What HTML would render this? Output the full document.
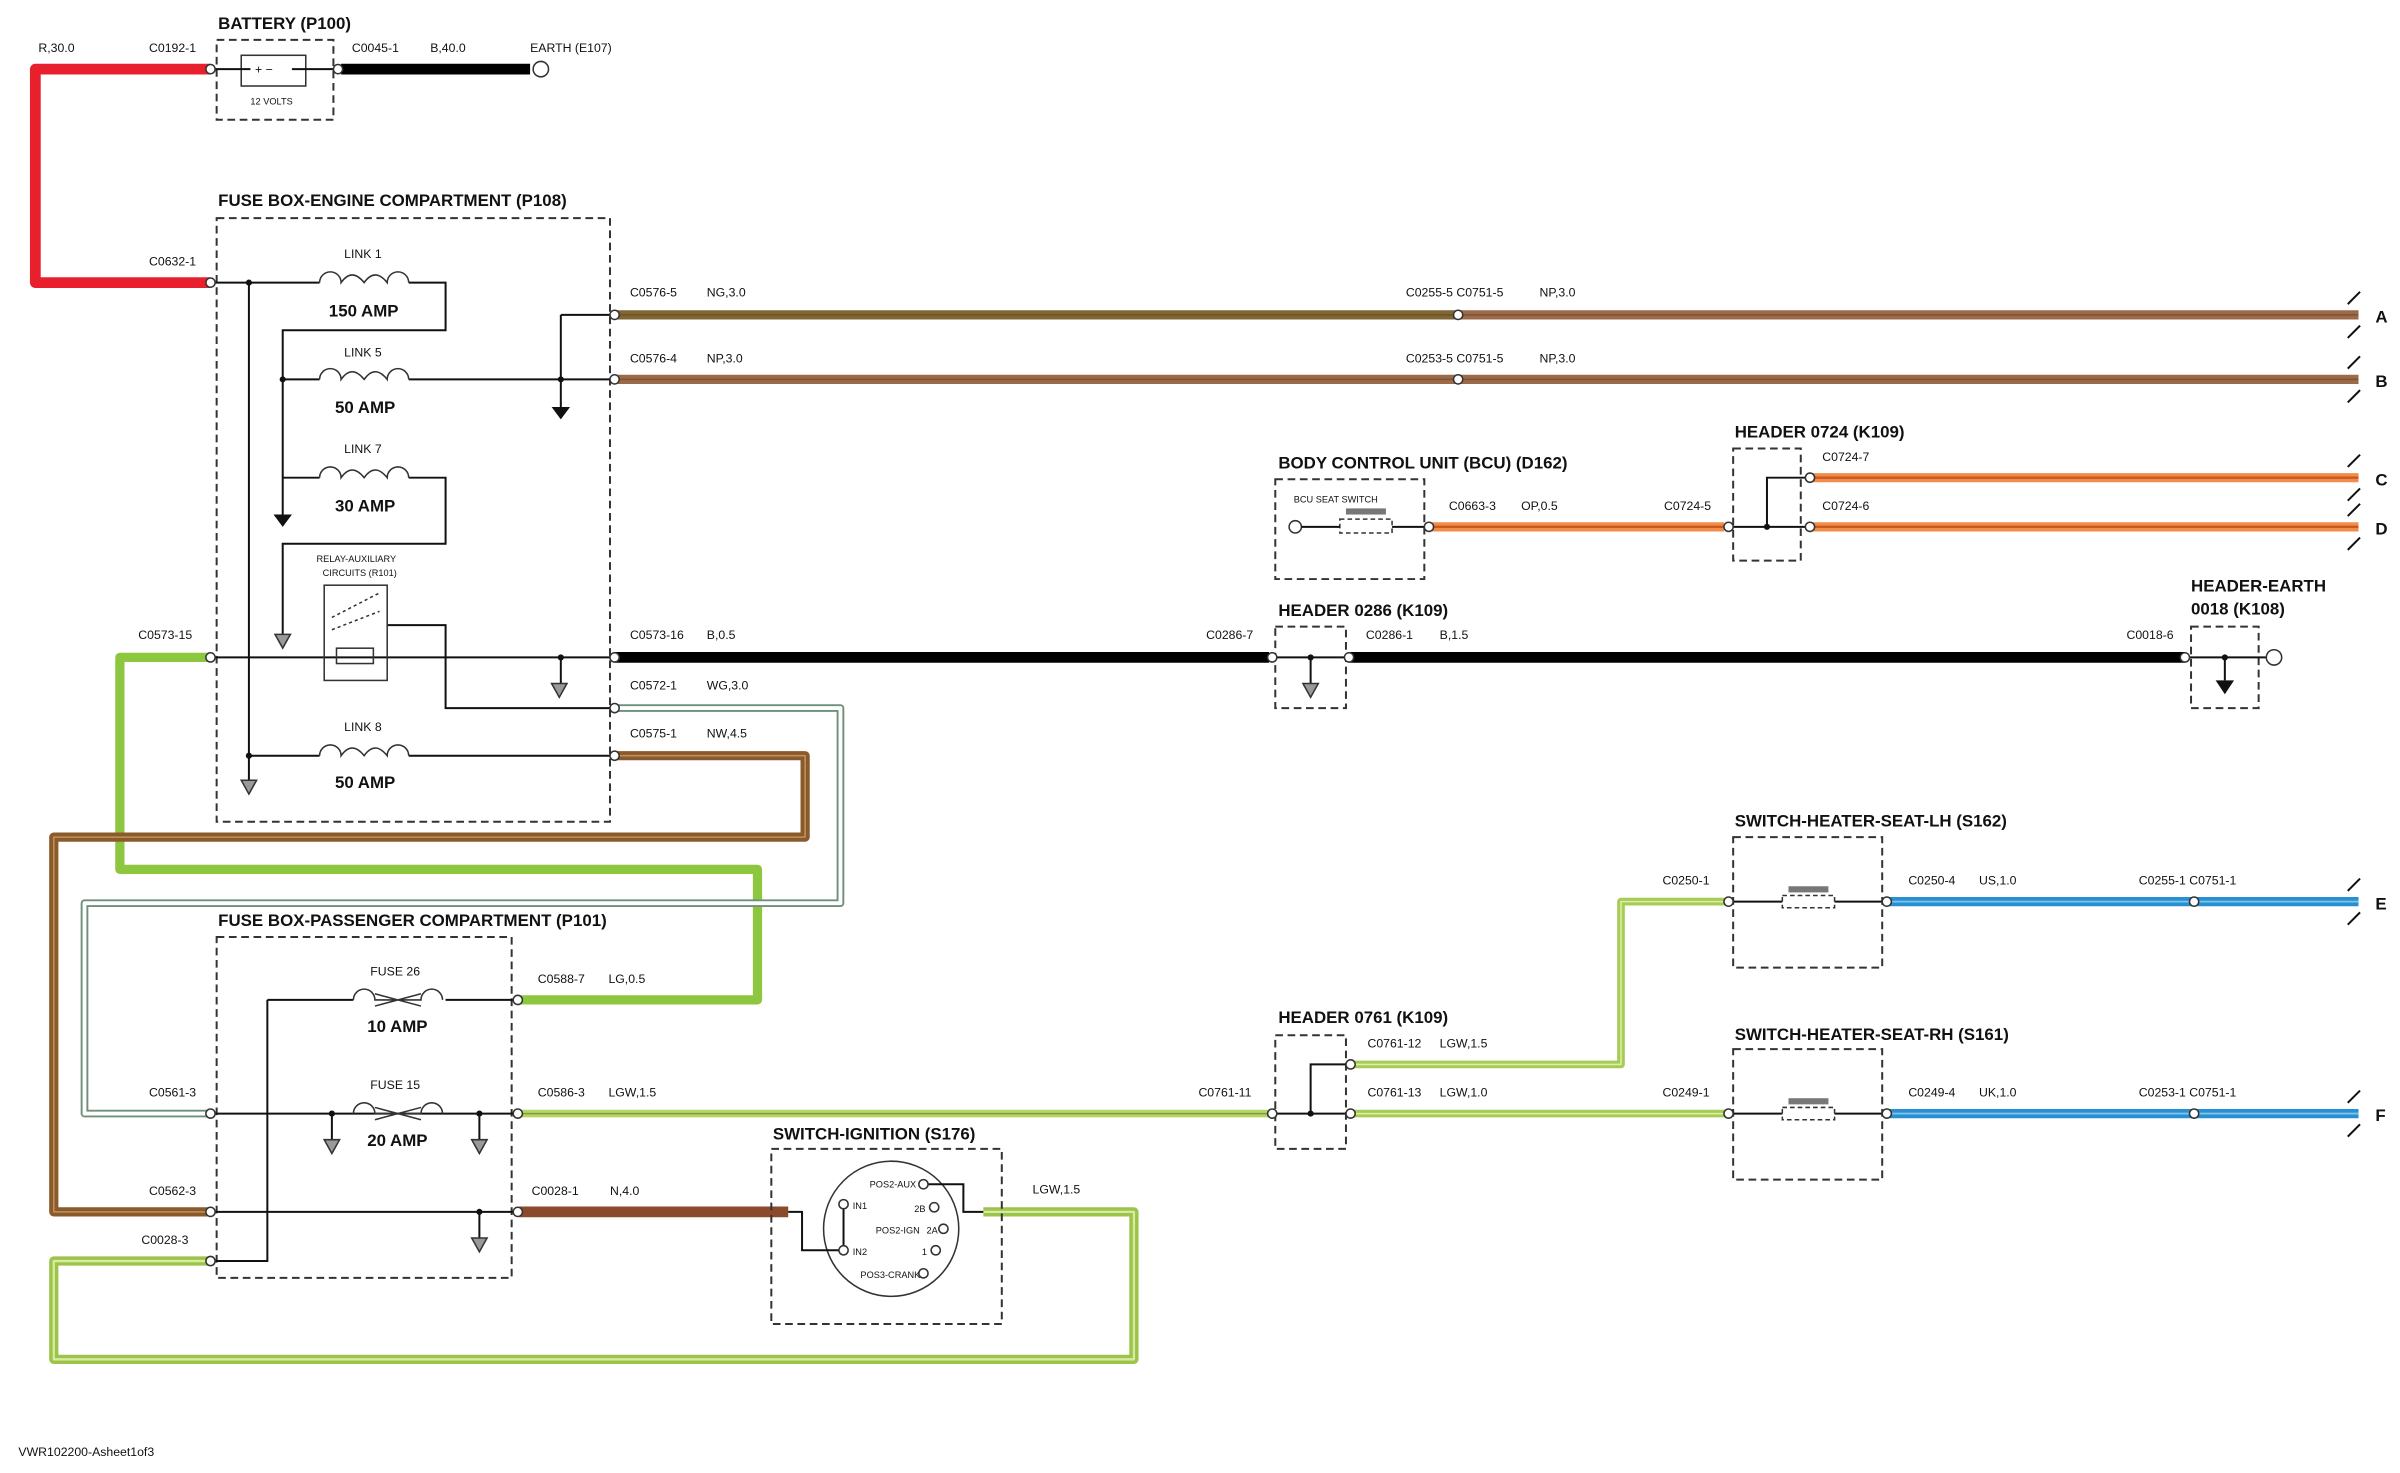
<!DOCTYPE html>
<html><head><meta charset="utf-8"><style>
html,body{margin:0;padding:0;background:#fff;}
svg{display:block;}
text{font-family:"Liberation Sans Narrow","Liberation Sans",sans-serif;fill:#111;}
.t{font-size:11px;font-weight:bold;}
.s{font-size:8px;}
.xs{font-size:6px;}
.box{fill:none;stroke:#333;stroke-width:1.3;stroke-dasharray:5,3;}
.ln{fill:none;stroke:#111;stroke-width:1.3;}
.w{fill:none;stroke-linejoin:round;}
.c{fill:#fff;stroke:#333;stroke-width:1;}
</style></head><body>
<svg width="2400" height="1473" viewBox="0 0 1562 959" preserveAspectRatio="none" xmlns="http://www.w3.org/2000/svg">
<!-- red wire -->
<path class="w" d="M137,45 H23 V184 H137" stroke="#e8202e" stroke-width="7"/>
<!-- battery -->
<text class="t" x="142" y="19">BATTERY (P100)</text>
<rect class="box" x="141" y="26" width="76" height="52"/>
<rect x="157" y="36" width="42" height="20" fill="none" stroke="#333"/>
<path class="ln" d="M140,45 H163 M190,45 H220"/>
<text class="s" x="166" y="48">+  −</text>
<text class="xs" x="163" y="68">12 VOLTS</text>
<path class="w" d="M222,45 H345" stroke="#000" stroke-width="7"/>
<circle class="c" cx="352" cy="45" r="5"/>
<text class="s" x="25" y="34">R,30.0</text><text class="s" x="97" y="34">C0192-1</text>
<text class="s" x="229" y="34">C0045-1</text><text class="s" x="280" y="34">B,40.0</text><text class="s" x="345" y="34">EARTH (E107)</text>
<text class="s" x="97" y="173">C0632-1</text>

<!-- engine fuse box -->
<text class="t" x="142" y="134">FUSE BOX-ENGINE COMPARTMENT (P108)</text>
<rect class="box" x="141" y="142" width="256" height="393"/>
<path class="ln" d="M140,184 H208 M266,184 H290 V215 H184 V335 M184,247 H208 M266,247 H400 M365,205 H400 M365,205 V265 M184,311 H208 M266,311 H290 V354 H184 V415 M162,184 V508 M162,492 H208 M266,492 H400 M140,428 H400 M365,428 V445 M252,407 H290 V461 H400"/>
<g fill="none" stroke="#333">
<path d="M208,184 a7,7 0 1 1 14,0 q7,-10 15,0 q7,-10 15,0 a7,7 0 1 1 14,0"/>
<path d="M208,247 a7,7 0 1 1 14,0 q7,-10 15,0 q7,-10 15,0 a7,7 0 1 1 14,0"/>
<path d="M208,311 a7,7 0 1 1 14,0 q7,-10 15,0 q7,-10 15,0 a7,7 0 1 1 14,0"/>
<path d="M208,492 a7,7 0 1 1 14,0 q7,-10 15,0 q7,-10 15,0 a7,7 0 1 1 14,0"/>
<rect x="211" y="381" width="41" height="62"/>
<rect x="219" y="422" width="24" height="10"/>
<path d="M216,402 L247,386 M216,410 L247,398" stroke-dasharray="2,2"/>
</g>
<text class="s" x="224" y="168">LINK 1</text><text class="t" x="214" y="206">150 AMP</text>
<text class="s" x="224" y="232">LINK 5</text><text class="t" x="218" y="269">50 AMP</text>
<text class="s" x="224" y="295">LINK 7</text><text class="t" x="218" y="333">30 AMP</text>
<text class="s" x="224" y="476">LINK 8</text><text class="t" x="218" y="513">50 AMP</text>
<text class="xs" x="206" y="366">RELAY-AUXILIARY</text><text class="xs" x="210" y="375">CIRCUITS (R101)</text>
<g fill="#111"><circle cx="162" cy="184" r="2"/><circle cx="184" cy="247" r="2"/><circle cx="365" cy="247" r="2"/><circle cx="365" cy="428" r="2"/><circle cx="162" cy="492" r="2"/>
<path d="M359,265 h12 l-6,8z M178,335 h12 l-6,8z"/></g>
<g fill="#999" stroke="#333"><path d="M179,413 h10 l-5,9z M359,445 h10 l-5,9z M157,508 h10 l-5,9z"/></g>

<!-- wires A/B -->
<path class="w" d="M400,205 H949" stroke="#7f6632" stroke-width="6"/>
<path class="w" d="M949,205 H1535" stroke="#9c6a48" stroke-width="6"/>
<path class="w" d="M400,247 H1535" stroke="#9c6a48" stroke-width="6"/>
<path d="M400,205 H1535 M400,247 H1535" stroke="#5a4020" stroke-width="1" opacity=".5"/>
<text class="s" x="410" y="193">C0576-5</text><text class="s" x="460" y="193">NG,3.0</text>
<text class="s" x="915" y="193">C0255-5 C0751-5</text><text class="s" x="1002" y="193">NP,3.0</text>
<text class="s" x="410" y="236">C0576-4</text><text class="s" x="460" y="236">NP,3.0</text>
<text class="s" x="915" y="236">C0253-5 C0751-5</text><text class="s" x="1002" y="236">NP,3.0</text>
<text class="t" x="1546" y="210">A</text><text class="t" x="1546" y="252">B</text>
<text class="t" x="1546" y="316">C</text><text class="t" x="1546" y="348">D</text>
<text class="t" x="1546" y="592">E</text><text class="t" x="1546" y="730">F</text>
<path class="ln" stroke-width=".8" d="M1528,198 l8,-8 M1528,220 l8,-8 M1528,240 l8,-8 M1528,262 l8,-8 M1528,304 l8,-8 M1528,326 l8,-8 M1528,336 l8,-8 M1528,358 l8,-8 M1528,580 l8,-8 M1528,602 l8,-8 M1528,718 l8,-8 M1528,740 l8,-8"/>

<!-- BCU + header 0724 -->
<text class="t" x="832" y="305">BODY CONTROL UNIT (BCU) (D162)</text>
<rect class="box" x="830" y="312" width="97" height="65"/>
<text class="xs" x="842" y="327">BCU SEAT SWITCH</text>
<circle class="c" cx="843" cy="343" r="4"/>
<rect x="872" y="338" width="34" height="9" fill="none" stroke="#333" stroke-dasharray="3,2"/>
<rect x="876" y="331" width="26" height="4" fill="#777"/>
<path class="ln" d="M847,343 H872 M906,343 H930"/>
<path class="w" d="M930,343 H1122 M1178,343 H1535 M1178,311 H1535" stroke="#f28c4a" stroke-width="6"/>
<path d="M930,343 H1122 M1178,343 H1535 M1178,311 H1535" stroke="#c85a20" stroke-width="1.5"/>
<text class="s" x="943" y="332">C0663-3</text><text class="s" x="990" y="332">OP,0.5</text><text class="s" x="1083" y="332">C0724-5</text>
<text class="t" x="1129" y="285">HEADER 0724 (K109)</text>
<rect class="box" x="1128" y="292" width="44" height="73"/>
<path class="ln" d="M1125,343 H1178 M1150,343 V311 H1178"/><circle cx="1150" cy="343" r="2" fill="#111"/>
<text class="s" x="1186" y="300">C0724-7</text><text class="s" x="1186" y="332">C0724-6</text>

<!-- black wire -->
<path class="w" d="M400,428 H826 M878,428 H1422" stroke="#000" stroke-width="7"/>
<text class="s" x="410" y="416">C0573-16</text><text class="s" x="460" y="416">B,0.5</text><text class="s" x="785" y="416">C0286-7</text>
<text class="s" x="889" y="416">C0286-1</text><text class="s" x="937" y="416">B,1.5</text><text class="s" x="1384" y="416">C0018-6</text>
<text class="t" x="832" y="401">HEADER 0286 (K109)</text>
<rect class="box" x="830" y="408" width="46" height="53"/>
<path class="ln" d="M826,428 H878 M853,428 V445"/><circle cx="853" cy="428" r="2" fill="#111"/>
<path d="M848,445 h10 l-5,9z" fill="#999" stroke="#333"/>
<text class="t" x="1426" y="385">HEADER-EARTH</text><text class="t" x="1426" y="400">0018 (K108)</text>
<rect class="box" x="1426" y="408" width="44" height="53"/>
<path class="ln" d="M1422,428 H1475 M1448,428 V443"/><circle cx="1448" cy="428" r="2" fill="#111"/>
<path d="M1442,443 h12 l-6,9z" fill="#111"/>
<circle class="c" cx="1480" cy="428" r="5"/>

<!-- green C0573-15 loop -->
<path class="w" d="M137,428 H78 V566 H493 V651 H338" stroke="#8dc63f" stroke-width="6"/>
<text class="s" x="90" y="416">C0573-15</text>
<!-- WG double line -->
<path class="w" d="M400,461 H547 V588 H55 V725 H137" stroke="#6e8f7a" stroke-width="5"/>
<path class="w" d="M400,461 H547 V588 H55 V725 H137" stroke="#fff" stroke-width="2.5"/>
<text class="s" x="410" y="449">C0572-1</text><text class="s" x="460" y="449">WG,3.0</text>
<!-- brown NW -->
<path class="w" d="M400,492 H524 V545 H35 V789 H137" stroke="#8b5a2b" stroke-width="6"/>
<path class="w" d="M400,492 H524 V545 H35 V789 H137" stroke="#c09060" stroke-width="1"/>
<text class="s" x="410" y="480">C0575-1</text><text class="s" x="460" y="480">NW,4.5</text>

<!-- passenger box -->
<text class="t" x="142" y="603">FUSE BOX-PASSENGER COMPARTMENT (P101)</text>
<rect class="box" x="141" y="610" width="192" height="222"/>
<path class="ln" d="M174,651 H230 M290,651 H338 M174,651 V821 H140 M140,725 H338 M216,725 V742 M312,725 V742 M140,789 H338 M312,789 V806"/>
<g fill="none" stroke="#333">
<path d="M230,651 a7,7 0 1 1 14,0 l30,0 a7,7 0 1 1 14,0 M244,647 L274,655 M244,655 L274,647"/>
<path d="M230,725 a7,7 0 1 1 14,0 l30,0 a7,7 0 1 1 14,0 M244,721 L274,729 M244,729 L274,721"/>
</g>
<g fill="#111"><circle cx="216" cy="725" r="2"/><circle cx="312" cy="725" r="2"/><circle cx="312" cy="789" r="2"/></g>
<path d="M211,742 h10 l-5,9z M307,742 h10 l-5,9z M307,806 h10 l-5,9z" fill="#999" stroke="#333"/>
<text class="s" x="241" y="635">FUSE 26</text><text class="t" x="239" y="672">10 AMP</text>
<text class="s" x="241" y="709">FUSE 15</text><text class="t" x="239" y="746">20 AMP</text>
<text class="s" x="350" y="640">C0588-7</text><text class="s" x="396" y="640">LG,0.5</text>
<text class="s" x="350" y="714">C0586-3</text><text class="s" x="396" y="714">LGW,1.5</text>
<text class="s" x="97" y="714">C0561-3</text><text class="s" x="97" y="778">C0562-3</text><text class="s" x="92" y="810">C0028-3</text>
<text class="s" x="346" y="778">C0028-1</text><text class="s" x="397" y="778">N,4.0</text>

<!-- LGW wires -->
<path class="w" d="M338,725 H828" stroke="#b5d56a" stroke-width="5"/>
<path d="M338,725 H828" stroke="#7e9d3a" stroke-width="1"/>
<path class="w" d="M513,789 H338" stroke="#8b4a2b" stroke-width="7"/>
<path class="w" d="M640,789 H738 V885 H35 V821 H137" stroke="#9cc44a" stroke-width="6"/>
<path class="w" d="M640,789 H738 V885 H35 V821 H137" stroke="#d7ea9f" stroke-width="1.5"/>
<text class="s" x="672" y="777">LGW,1.5</text>
<!-- ignition -->
<text class="t" x="503" y="742">SWITCH-IGNITION (S176)</text>
<rect class="box" x="502" y="748" width="150" height="114"/>
<circle cx="580" cy="800" r="44" fill="none" stroke="#333"/>
<path class="ln" d="M513,789 H522 V814 H549 M549,784 V814 M601,771 H627 V789 H640"/>
<g class="c"><circle cx="549" cy="784" r="3"/><circle cx="549" cy="814" r="3"/><circle cx="601" cy="771" r="3"/><circle cx="608" cy="786" r="3"/><circle cx="614" cy="800" r="3"/><circle cx="609" cy="814" r="3"/><circle cx="601" cy="829" r="3"/></g>
<g class="xs"><text x="566" y="773">POS2-AUX</text><text x="555" y="787">IN1</text><text x="595" y="789">2B</text><text x="570" y="803">POS2-IGN</text><text x="603" y="803">2A</text><text x="555" y="817">IN2</text><text x="600" y="817">1</text><text x="560" y="832">POS3-CRANK</text></g>

<!-- header 0761 -->
<text class="t" x="832" y="666">HEADER 0761 (K109)</text>
<rect class="box" x="830" y="674" width="46" height="74"/>
<path class="ln" d="M828,725 H880 M853,725 V693 H880"/><circle cx="853" cy="725" r="2" fill="#111"/>
<path class="w" d="M880,693 H1055 V587 H1125 M880,725 H1125" stroke="#a6cc55" stroke-width="5"/>
<path d="M880,693 H1055 V587 H1125 M880,725 H1125" stroke="#dcedac" stroke-width="1" fill="none"/>
<text class="s" x="780" y="714">C0761-11</text>
<text class="s" x="890" y="682">C0761-12</text><text class="s" x="937" y="682">LGW,1.5</text>
<text class="s" x="890" y="714">C0761-13</text><text class="s" x="937" y="714">LGW,1.0</text>
<text class="s" x="1082" y="576">C0250-1</text><text class="s" x="1082" y="714">C0249-1</text>

<!-- seat switches -->
<text class="t" x="1129" y="538">SWITCH-HEATER-SEAT-LH (S162)</text>
<rect class="box" x="1128" y="545" width="97" height="85"/>
<text class="t" x="1129" y="677">SWITCH-HEATER-SEAT-RH (S161)</text>
<rect class="box" x="1128" y="683" width="97" height="85"/>
<path class="ln" d="M1125,587 H1160 M1194,587 H1228 M1125,725 H1160 M1194,725 H1228"/>
<rect x="1160" y="583" width="34" height="8" fill="none" stroke="#333" stroke-dasharray="3,2"/>
<rect x="1164" y="577" width="26" height="4" fill="#777"/>
<rect x="1160" y="721" width="34" height="8" fill="none" stroke="#333" stroke-dasharray="3,2"/>
<rect x="1164" y="715" width="26" height="4" fill="#777"/>
<path class="w" d="M1228,587 H1535 M1228,725 H1535" stroke="#2a8fd0" stroke-width="6"/>
<path d="M1228,587 H1535 M1228,725 H1535" stroke="#7cc4ee" stroke-width="1.2"/>
<text class="s" x="1242" y="576">C0250-4</text><text class="s" x="1288" y="576">US,1.0</text><text class="s" x="1392" y="576">C0255-1 C0751-1</text>
<text class="s" x="1242" y="714">C0249-4</text><text class="s" x="1288" y="714">UK,1.0</text><text class="s" x="1392" y="714">C0253-1 C0751-1</text>

<!-- connector circles -->
<g class="c">
<circle cx="137" cy="45" r="3"/><circle cx="220" cy="45" r="3"/><circle cx="137" cy="184" r="3"/>
<circle cx="400" cy="205" r="3"/><circle cx="400" cy="247" r="3"/><circle cx="949" cy="205" r="3"/><circle cx="949" cy="247" r="3"/>
<circle cx="400" cy="428" r="3"/><circle cx="400" cy="461" r="3"/><circle cx="400" cy="492" r="3"/><circle cx="137" cy="428" r="3"/>
<circle cx="930" cy="343" r="3"/><circle cx="1125" cy="343" r="3"/><circle cx="1178" cy="343" r="3"/><circle cx="1178" cy="311" r="3"/>
<circle cx="828" cy="428" r="3"/><circle cx="878" cy="428" r="3"/><circle cx="1422" cy="428" r="3"/>
<circle cx="337" cy="651" r="3"/><circle cx="337" cy="725" r="3"/><circle cx="337" cy="789" r="3"/>
<circle cx="137" cy="725" r="3"/><circle cx="137" cy="789" r="3"/><circle cx="137" cy="821" r="3"/>
<circle cx="828" cy="725" r="3"/><circle cx="879" cy="725" r="3"/><circle cx="879" cy="693" r="3"/>
<circle cx="1125" cy="587" r="3"/><circle cx="1228" cy="587" r="3"/><circle cx="1125" cy="725" r="3"/><circle cx="1228" cy="725" r="3"/>
<circle cx="1428" cy="587" r="3"/><circle cx="1428" cy="725" r="3"/>
</g>
<text class="s" x="12" y="948">VWR102200-Asheet1of3</text>
</svg>
</body></html>
